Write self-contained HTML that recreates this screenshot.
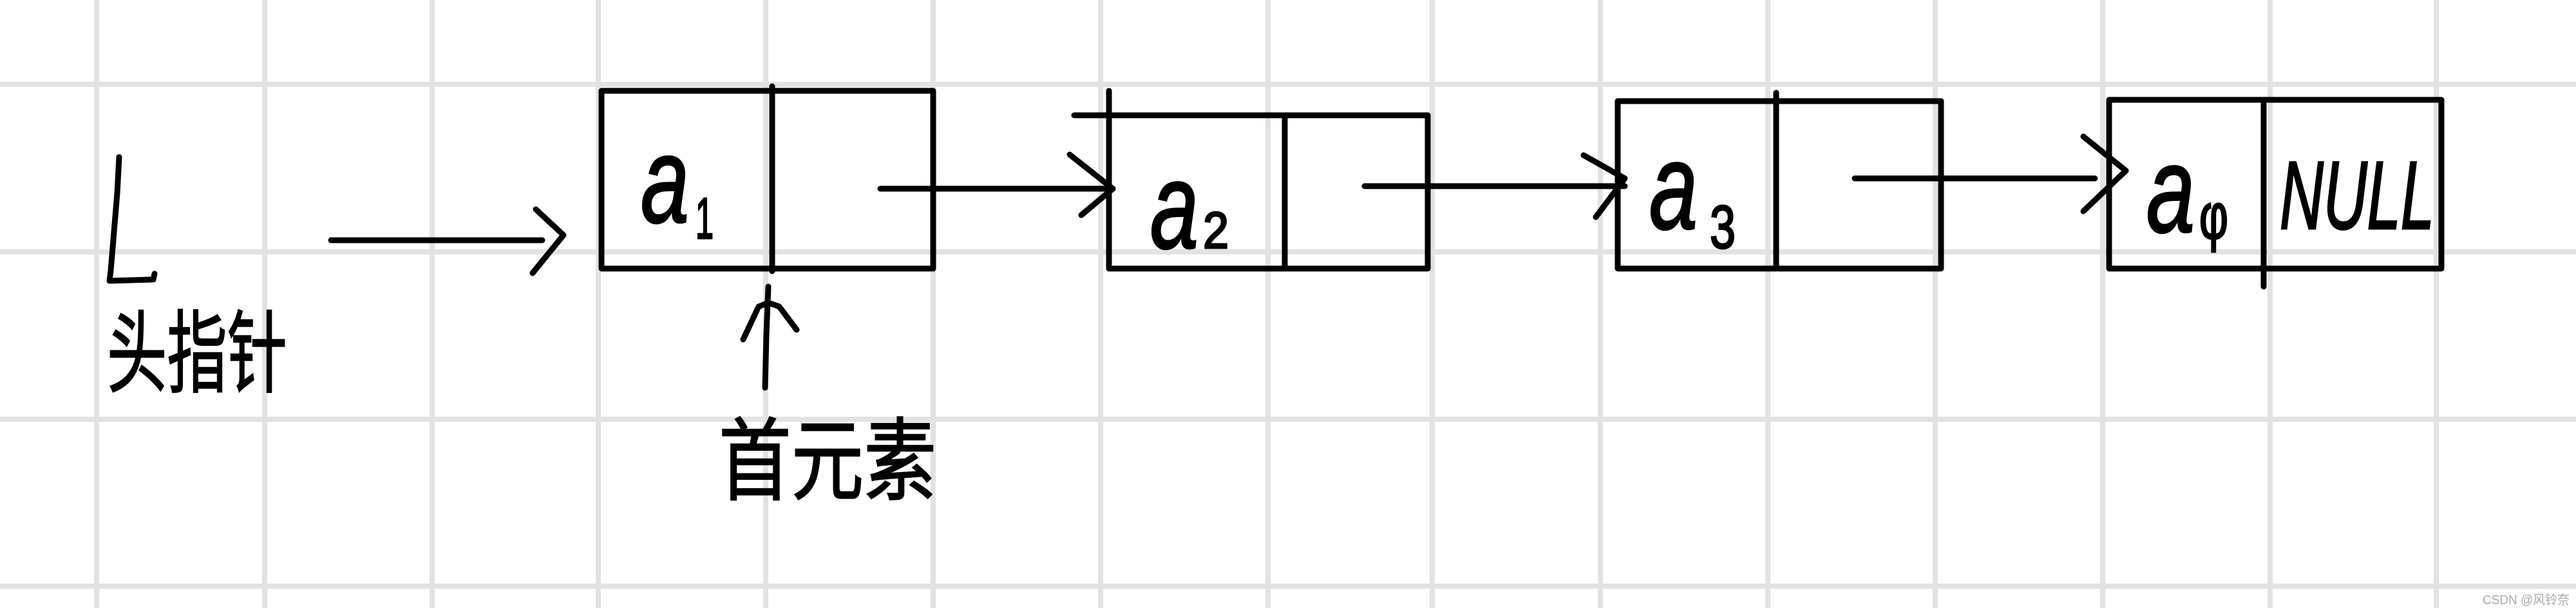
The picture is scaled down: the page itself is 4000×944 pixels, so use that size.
<!DOCTYPE html>
<html><head><meta charset="utf-8"><style>
html,body{margin:0;padding:0;background:#fff;}
svg{display:block}
</style></head><body>
<svg width="4000" height="944" viewBox="0 0 4000 944" xmlns="http://www.w3.org/2000/svg">
<rect width="4000" height="944" fill="#fff"/>
<g stroke="#e2e2e2" stroke-width="8">
<line x1="150" y1="0" x2="150" y2="944"/><line x1="411" y1="0" x2="411" y2="944"/>
<line x1="671" y1="0" x2="671" y2="944"/><line x1="929" y1="0" x2="929" y2="944"/>
<line x1="1189" y1="0" x2="1189" y2="944"/><line x1="1449" y1="0" x2="1449" y2="944"/>
<line x1="1709" y1="0" x2="1709" y2="944"/><line x1="1969" y1="0" x2="1969" y2="944"/>
<line x1="2224" y1="0" x2="2224" y2="944"/><line x1="2485" y1="0" x2="2485" y2="944"/>
<line x1="2745" y1="0" x2="2745" y2="944"/><line x1="3005" y1="0" x2="3005" y2="944"/>
<line x1="3265" y1="0" x2="3265" y2="944"/><line x1="3525" y1="0" x2="3525" y2="944"/>
<line x1="3783" y1="0" x2="3783" y2="944"/>
<line x1="0" y1="131" x2="4000" y2="131"/><line x1="0" y1="391" x2="4000" y2="391"/>
<line x1="0" y1="651" x2="4000" y2="651"/><line x1="0" y1="910" x2="4000" y2="910"/>
</g>
<g stroke="#000" stroke-width="9" fill="none" stroke-linecap="round" stroke-linejoin="round">
<rect x="934" y="141" width="515" height="276"/>
<line x1="1199" y1="134" x2="1199" y2="421"/>
<line x1="1668" y1="179" x2="2217" y2="179"/>
<polyline points="1722,141 1722,417 2217,417 2217,179"/>
<line x1="1995" y1="179" x2="1995" y2="417"/>
<rect x="2512" y="157" width="502" height="260"/>
<line x1="2758" y1="144" x2="2758" y2="417"/>
<rect x="3275" y="155" width="516" height="262"/>
<line x1="3515" y1="155" x2="3515" y2="445"/>
<path d="M185,244 L182,300 L172,420 L170,436 L238,434 L240,425"/>
<line x1="514" y1="373" x2="842" y2="373"/>
<polyline points="832,325 875,365 827,424"/>
<line x1="1367" y1="293" x2="1728" y2="293"/>
<polyline points="1661,240 1728,293 1679,334"/>
<line x1="2119" y1="289" x2="2523" y2="289"/>
<polyline points="2459,241 2523,277 2478,337"/>
<line x1="2880" y1="277" x2="3253" y2="277"/>
<polyline points="3235,212 3301,265 3235,328"/>
<path d="M1188,602 L1190,520 L1193,445"/>
<polyline points="1154,527 1178,476 1193,470 1210,476 1237,512"/>
</g>
<g font-family="Liberation Sans, sans-serif" fill="#000" stroke="#000" stroke-width="3">
<text x="995" y="345" font-size="190" font-style="italic" textLength="75" lengthAdjust="spacingAndGlyphs">a</text>
<text x="1080" y="370" font-size="90" textLength="28" lengthAdjust="spacingAndGlyphs">1</text>
<text x="1786" y="385" font-size="190" font-style="italic" textLength="75" lengthAdjust="spacingAndGlyphs">a</text>
<text x="1868" y="385" font-size="80" textLength="40" lengthAdjust="spacingAndGlyphs">2</text>
<text x="2561" y="355" font-size="190" font-style="italic" textLength="75" lengthAdjust="spacingAndGlyphs">a</text>
<text x="2655" y="385" font-size="95" textLength="40" lengthAdjust="spacingAndGlyphs">3</text>
<text x="3333" y="360" font-size="190" font-style="italic" textLength="75" lengthAdjust="spacingAndGlyphs">a</text>
<text x="3415" y="370" font-size="100" textLength="45" lengthAdjust="spacingAndGlyphs">φ</text>
<text x="3540" y="355" font-size="150" font-style="italic" textLength="240" lengthAdjust="spacingAndGlyphs">NULL</text>
</g>
<g font-family="Liberation Sans, 'Noto Sans CJK SC', sans-serif" fill="#000">
<text x="166" y="598" font-size="140" textLength="280" lengthAdjust="spacingAndGlyphs" stroke="#000" stroke-width="2">头指针</text>
<text x="1116" y="765" font-size="140" textLength="338" lengthAdjust="spacingAndGlyphs" stroke="#000" stroke-width="2">首元素</text>
<text x="3855" y="938" font-size="20" fill="#aaa" textLength="135" lengthAdjust="spacingAndGlyphs">CSDN @风铃奈</text>
</g>
</svg>
</body></html>
